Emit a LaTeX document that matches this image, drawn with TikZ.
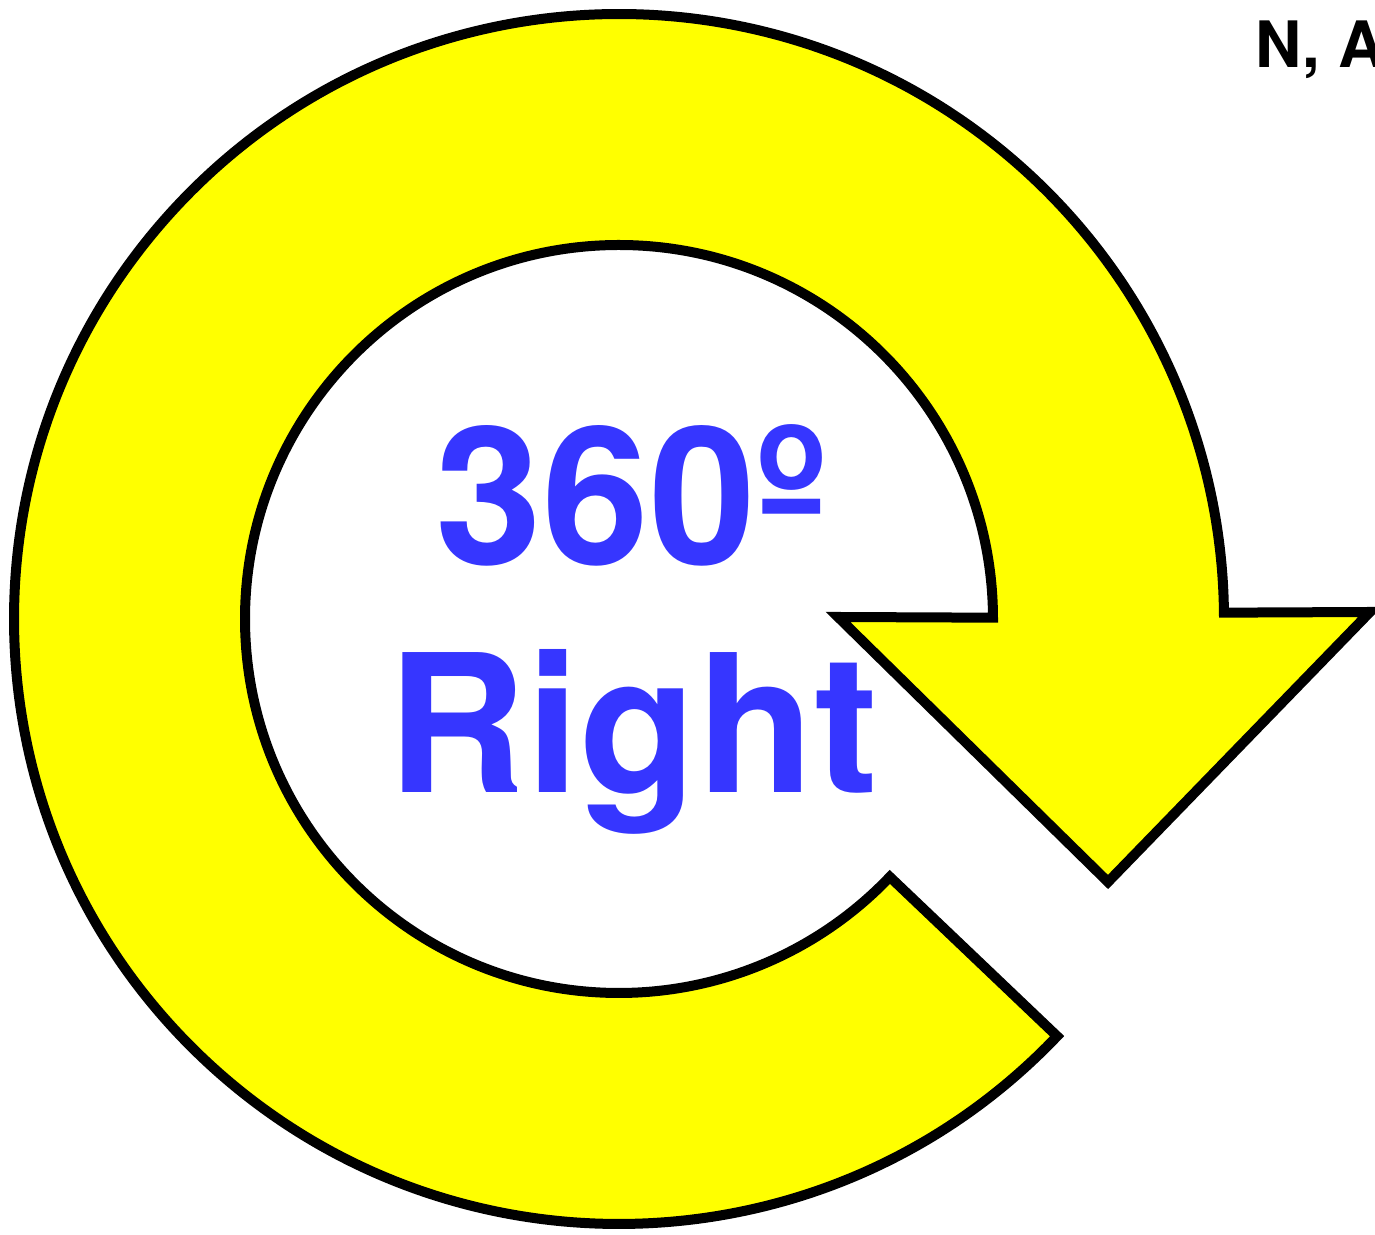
\documentclass[tikz,border=0pt]{standalone}
\usepackage{fontspec}
\setmainfont{TeX Gyre Heros}
\usetikzlibrary{calc}
\definecolor{ringyellow}{HTML}{FFFF00}
\definecolor{textblue}{HTML}{3636FF}
\begin{document}
\begin{tikzpicture}[x=0.5pt,y=0.5pt,
  ring/.style={fill=ringyellow,draw=black,line width=5pt,line join=miter},
  bigtext/.style={text=textblue,font=\fontsize{96}{110}\selectfont\bfseries,inner sep=0pt,anchor=base},
  cornertext/.style={text=black,font=\fontsize{32}{38}\selectfont\bfseries,inner sep=0pt,anchor=base west}]
\useasboundingbox (0,0) rectangle (1375,1235);
\clip (0,0) rectangle (1375,1235);
\coordinate (C) at (619,616);
\coordinate (barbR) at (1370,623);
\coordinate (tip) at (1108,353);
\coordinate (barbL) at (838,618);
\draw[ring] ($(C)+(-43.6:605)$) arc[start angle=-43.6,end angle=-359.4,radius=605]
  -- (barbR) -- (tip) -- (barbL) -- ($(C)+(0.2:374)$)
  arc[start angle=-359.8,end angle=-43.6,radius=374] -- cycle;
\node[bigtext] (deg) at (631,670) {360º};
\node[bigtext] (right) at (633,442) {Right};
\node[cornertext] (corner) at (1255,1167) {N, A};
\end{tikzpicture}
\end{document}
